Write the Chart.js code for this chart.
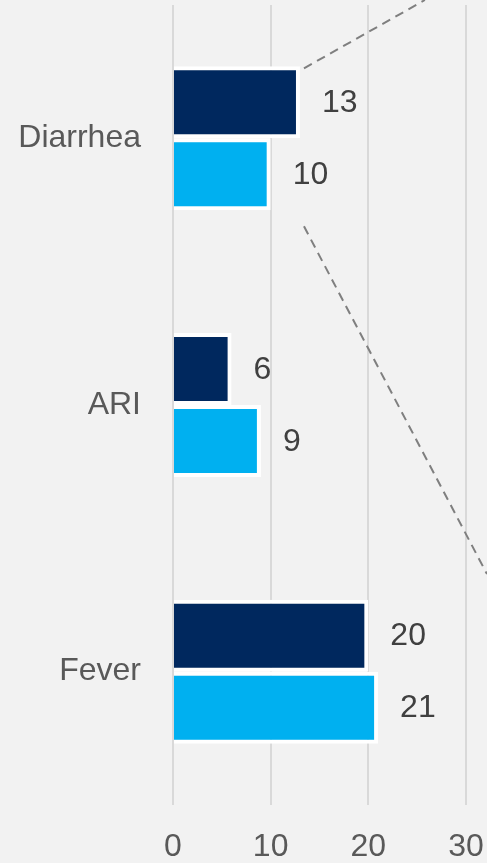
<!DOCTYPE html>
<html lang="en">
<head>
    <meta charset="UTF-8">
    <title>Illness prevalence</title>
    <script src="https://cdn.jsdelivr.net/npm/chart.js@4.4.1/dist/chart.umd.min.js"></script>
    <style>
        html, body { margin: 0; padding: 0; background: #f2f2f2; overflow: hidden; }
        #wrap { width: 487px; height: 863px; position: relative; }
    </style>
</head>
<body>
    <div id="wrap"><canvas id="chart"></canvas></div>

    <script>
        const categories = ['Diarrhea', 'ARI', 'Fever'];
        const seriesA = [13, 6, 20];
        const seriesB = [10, 9, 21];
        const xTicks = [0, 10, 20, 30];
        const FONT = '"Liberation Sans", Arial, sans-serif';

        // value labels to the right of each bar
        const valueLabels = {
            id: 'valueLabels',
            afterDatasetsDraw(chart) {
                const ctx = chart.ctx;
                ctx.save();
                ctx.font = '32px ' + FONT;
                ctx.fillStyle = '#404040';
                ctx.textAlign = 'left';
                ctx.textBaseline = 'middle';
                chart.data.datasets.forEach((ds, i) => {
                    chart.getDatasetMeta(i).data.forEach((bar, j) => {
                        ctx.fillText(ds.data[j], bar.x + 22, bar.y + 1);
                    });
                });
                ctx.restore();
            }
        };

        // dashed callout lines coming out of the Diarrhea bars
        const callout = {
            id: 'callout',
            afterDatasetsDraw(chart) {
                const ctx = chart.ctx;
                const top = chart.getDatasetMeta(0).data[0];
                const low = chart.getDatasetMeta(1).data[0];
                const x0 = top.x + 4;
                const y0 = top.y - top.height / 2 + 2;
                const y1 = low.y + low.height / 2 + 16;
                ctx.save();
                ctx.strokeStyle = '#7f7f7f';
                ctx.lineWidth = 2;
                ctx.setLineDash([9, 6]);
                ctx.beginPath();
                ctx.moveTo(x0, y0);
                ctx.lineTo(x0 + y0 / 0.565, 0);
                ctx.moveTo(x0, y1);
                ctx.lineTo(chart.width, y1 + (chart.width - x0) * 1.9);
                ctx.stroke();
                ctx.restore();
            }
        };

        // fixed axis sizes, no label overhang padding
        const fixAxis = size => axis => {
            axis.paddingTop = 0; axis.paddingBottom = 0;
            axis.paddingLeft = 0; axis.paddingRight = 0;
            if (axis.isHorizontal()) axis.height = size; else axis.width = size;
        };

        new Chart(document.getElementById('chart'), {
            type: 'bar',
            data: {
                labels: categories,
                datasets: [
                    { data: seriesA, backgroundColor: '#00285e', borderColor: '#ffffff', borderWidth: 4 },
                    { data: seriesB, backgroundColor: '#00b0f0', borderColor: '#ffffff', borderWidth: 4 }
                ]
            },
            options: {
                indexAxis: 'y',
                responsive: true,
                maintainAspectRatio: false,
                animation: false,
                layout: { padding: { left: 18, right: 21, top: 5, bottom: 0 } },
                datasets: { bar: { barPercentage: 1, categoryPercentage: 0.54 } },
                plugins: { legend: { display: false }, tooltip: { enabled: false } },
                scales: {
                    x: {
                        min: 0,
                        max: 30,
                        afterBuildTicks: axis => { axis.ticks = xTicks.map(v => ({ value: v })); },
                        afterFit: fixAxis(58),
                        grid: { color: '#d9d9d9', lineWidth: 2, drawTicks: false },
                        border: { display: false },
                        ticks: { padding: 23, maxRotation: 0, color: '#595959', font: { family: FONT, size: 32 } }
                    },
                    y: {
                        afterFit: fixAxis(155),
                        grid: { display: false, drawTicks: false },
                        border: { display: false },
                        ticks: { padding: 32, color: '#595959', font: { family: FONT, size: 32 } }
                    }
                }
            },
            plugins: [valueLabels, callout]
        });
    </script>
</body>
</html>
